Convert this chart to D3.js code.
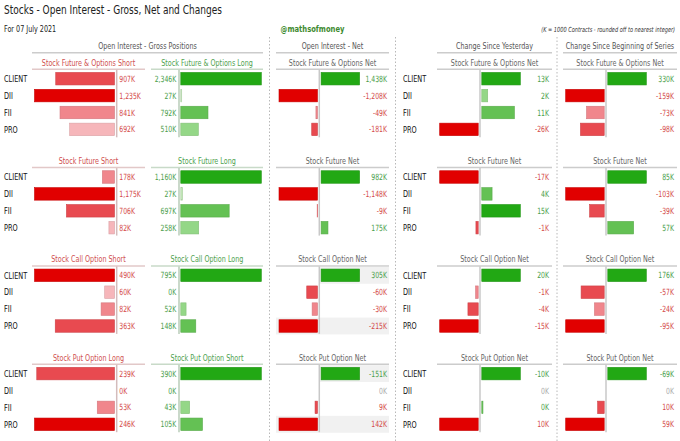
<!DOCTYPE html>
<html><head><meta charset="utf-8">
<script src="https://cdn.jsdelivr.net/npm/d3@7"></script>
<style>body{margin:0;background:#fff}svg{display:block}</style>
</head><body><svg id="c" width="680" height="441"></svg>
<script>
// ---------------- data ----------------
const categories = ["CLIENT","DII","FII","PRO"];
const shortTitles = ["Stock Future & Options Short","Stock Future Short","Stock Call Option Short","Stock Put Option Long"];
const longTitles  = ["Stock Future & Options Long","Stock Future Long","Stock Call Option Long","Stock Put Option Short"];
const netTitles   = ["Stock Future & Options Net","Stock Future Net","Stock Call Option Net","Stock Put Option Net"];
const shortValues = [[907,1235,841,692],[178,1175,706,82],[490,60,82,363],[239,0,53,246]];
const longValues  = [[2346,27,792,510],[1160,27,697,258],[795,0,52,148],[390,0,43,105]];
const netValues   = [[1438,-1208,-49,-181],[982,-1148,-9,175],[305,-60,-30,-215],[-151,0,9,142]];
const changeYesterday = [[13,2,11,-26],[-17,4,15,-1],[20,-1,-4,-15],[-10,0,-0.3,10]];
const changeSeries    = [[330,-159,-73,-98],[85,-103,-39,57],[176,-57,-24,-95],[-69,0,10,59]];
const netDirection = [1,1,1,-1];   // put option net is displayed inverted
const sectionHeaders = ["Open Interest - Gross Positions","Open Interest - Net","Change Since Yesterday","Change Since Beginning of Series"];
const highlightRows = [[],[],[["CLIENT","pos"],["PRO","all"]],[["CLIENT","pos"],["PRO","all"]]];
const titleText = "Stocks - Open Interest - Gross, Net and Changes";
const dateText = "For 07 July 2021";
const handleText = "@mathsofmoney";
const noteText = "(K = 1000 Contracts - rounded off to nearest integer)";

// ---------------- style ----------------
const FONT = "'Liberation Sans Narrow','DejaVu Sans Condensed','Liberation Sans',Arial,sans-serif";
const redShades = ["#e10000","#e84a50","#f0868c","#f6b6ba"];
const greenShades = ["#22a814","#64c154","#94d787","#c2e8b8"];
const redText = "#d44a4a", greenText = "#4a9e4a", greyText = "#aaaaaa";

const svg = d3.select("#c");
// measure font to get a horizontal compression matching the condensed reference font
const probe = svg.append("text").attr("font-family",FONT).attr("font-size",9).text(sectionHeaders[0]);
const SX = 99 / probe.node().getComputedTextLength();
probe.remove();

function txt(parent, x, y, s, o={}) {
  const g = parent.append("g").attr("transform",`translate(${x},${y}) scale(${SX},1)`);
  return g.append("text").attr("font-family",FONT).attr("font-size",o.size||9)
    .attr("fill",o.fill||"#333").attr("text-anchor",o.anchor||"start")
    .attr("font-weight",o.weight||"normal").attr("font-style",o.style||"normal").text(s);
}
const fmt = v => { const r = Math.round(v); return (r<0?"-":"") + d3.format(",")(Math.abs(r)) + "K"; };

// header
txt(svg, 4, 14, titleText, {size:12.6, fill:"#222"});
txt(svg, 4, 31.5, dateText, {size:9, fill:"#222"});
txt(svg, 312.5, 31.5, handleText, {size:9.5, fill:"#3d8a2e", anchor:"middle", weight:"bold"});
txt(svg, 675, 31.5, noteText, {size:7, fill:"#333", anchor:"end", style:"italic"});

// section headers
const sections = [[32,263],[276,389],[437,552],[563,677]];
sections.forEach((s,i)=>{
  svg.append("line").attr("x1",s[0]).attr("x2",s[1]).attr("y1",52.7).attr("y2",52.7).attr("stroke","#cccccc").attr("stroke-width",1.5);
  txt(svg,(s[0]+s[1])/2,48.6,sectionHeaders[i],{size:9,fill:"#555",anchor:"middle"});
});
// dotted separators
[269.5,395.5,557].forEach(x=>{
  svg.append("line").attr("x1",x).attr("x2",x).attr("y1",37).attr("y2",441)
    .attr("stroke","#b8b8b8").attr("stroke-width",1).attr("stroke-dasharray","1.5,2");
});

const netPanels = [
  {vals:netValues, left:276, right:389, axis:319.3, labelX:387},
  {vals:changeYesterday, left:437, right:552, axis:480, labelX:549},
  {vals:changeSeries, left:563, right:677, axis:606, labelX:674}
];

function rankShades(vals){ // rank of each value among non-zero values (desc)
  const idx = vals.map((v,i)=>i).filter(i=>vals[i]!==0).sort((a,b)=>vals[b]-vals[a]);
  const r = vals.map(()=>-1); idx.forEach((i,k)=>r[i]=k); return r;
}

for (let g=0; g<4; g++){
  const lineY = 69.3 + 98.3*g;
  const y = d3.scaleBand().domain(categories).range([lineY+0.95, lineY+0.95+4*16.9]).paddingInner(0.26).paddingOuter(0.13);
  const bh = y.bandwidth();
  const cy = c => y(c)+bh/2;
  const G = svg.append("g");

  // category labels
  categories.forEach(c=>{
    txt(G,4,cy(c)+3.2,c,{size:9.2,fill:"#111"});
    txt(G,403,cy(c)+3.2,c,{size:9.2,fill:"#111"});
  });

  // ---- short panel ----
  const sAxis = 116.7;
  G.append("line").attr("x1",32).attr("x2",145).attr("y1",lineY).attr("y2",lineY).attr("stroke","#e2c8c8").attr("stroke-width",1.5);
  txt(G,88.5,lineY-3.6,shortTitles[g],{size:9,fill:"#d05050",anchor:"middle"});
  const sv = shortValues[g];
  const xs = d3.scaleLinear().domain([0,d3.max(sv)]).range([0,80]);
  const sr = rankShades(sv);
  G.selectAll(null).data(categories).join("rect")
    .attr("x",(c,i)=>sAxis-2.2-xs(sv[i])).attr("y",c=>y(c)).attr("width",(c,i)=>xs(sv[i])).attr("height",bh)
    .attr("fill",(c,i)=>sr[i]<0?"none":redShades[sr[i]])
    .attr("stroke",(c,i)=>sr[i]<0?"none":d3.color(redShades[sr[i]]).darker(0.35)).attr("stroke-width",0.6);
  G.append("line").attr("x1",sAxis).attr("x2",sAxis).attr("y1",lineY+0.5).attr("y2",lineY+68).attr("stroke","#d4bcbc").attr("stroke-width",1.5);
  categories.forEach((c,i)=>txt(G,119.3,cy(c)+3,fmt(sv[i]),{size:8.6,fill:redText}));

  // ---- long panel ----
  const lAxis = 179;
  G.append("line").attr("x1",151).attr("x2",263).attr("y1",lineY).attr("y2",lineY).attr("stroke","#c8dac8").attr("stroke-width",1.5);
  txt(G,207,lineY-3.6,longTitles[g],{size:9,fill:"#4ea24e",anchor:"middle"});
  const lv = longValues[g];
  const xl = d3.scaleLinear().domain([0,d3.max(lv)]).range([0,80.5]);
  const lr = rankShades(lv);
  G.selectAll(null).data(categories).join("rect")
    .attr("x",lAxis+1.8).attr("y",c=>y(c)).attr("width",(c,i)=>xl(lv[i])).attr("height",bh)
    .attr("fill",(c,i)=>lr[i]<0?"none":greenShades[lr[i]])
    .attr("stroke",(c,i)=>lr[i]<0?"none":d3.color(greenShades[lr[i]]).darker(0.35)).attr("stroke-width",0.6);
  G.append("line").attr("x1",lAxis).attr("x2",lAxis).attr("y1",lineY+0.5).attr("y2",lineY+68).attr("stroke","#b8ccb8").attr("stroke-width",1.5);
  categories.forEach((c,i)=>txt(G,176.3,cy(c)+3,fmt(lv[i]),{size:8.6,fill:greenText,anchor:"end"}));

  // ---- net panels ----
  netPanels.forEach((p,pi)=>{
    G.append("line").attr("x1",p.left).attr("x2",p.right).attr("y1",lineY).attr("y2",lineY).attr("stroke","#cccccc").attr("stroke-width",1.5);
    txt(G,(p.left+p.right)/2,lineY-3.6,netTitles[g],{size:9,fill:"#666",anchor:"middle"});
    const vals = p.vals[g];
    const d = vals.map(v=>v*netDirection[g]);
    if (pi===0) {
      highlightRows[g].forEach(([c,side])=>{
        const x0 = side==="all"?p.left:p.axis;
        G.append("rect").attr("x",x0).attr("y",y(c)-y.step()*0.13).attr("width",p.right-x0).attr("height",y.step()).attr("fill","#f1f1f1");
      });
    }
    const posMax = d3.max(d.filter(v=>v>0)) || 1;
    const negMax = d3.max(d.filter(v=>v<0).map(Math.abs)) || 1;
    const xp = d3.scaleLinear().domain([0,posMax]).range([0,38.5]);
    const xn = d3.scaleLinear().domain([0,negMax]).range([0,38.5]);
    const pr = rankShades(d.map(v=>v>0?v:0));
    const nr = rankShades(d.map(v=>v<0?-v:0));
    G.selectAll(null).data(categories).join("rect")
      .attr("x",(c,i)=>d[i]>=0?p.axis+1.8:p.axis-1.8-xn(-d[i]))
      .attr("y",c=>y(c)).attr("height",bh)
      .attr("width",(c,i)=>d[i]===0?0:(d[i]>0?xp(d[i]):xn(-d[i])))
      .attr("fill",(c,i)=>d[i]===0?"none":(d[i]>0?greenShades[pr[i]]:redShades[nr[i]]))
      .attr("stroke",(c,i)=>d[i]===0?"none":d3.color(d[i]>0?greenShades[pr[i]]:redShades[nr[i]]).darker(0.35))
      .attr("stroke-width",0.6);
    G.append("line").attr("x1",p.axis).attr("x2",p.axis).attr("y1",lineY+0.5).attr("y2",lineY+68).attr("stroke","#c8c8c8").attr("stroke-width",1.5);
    categories.forEach((c,i)=>txt(G,p.labelX,cy(c)+3,fmt(vals[i]),
      {size:8.6,fill:vals[i]===0?greyText:(d[i]>0?greenText:redText),anchor:"end"}));
  });
}
</script></body></html>
